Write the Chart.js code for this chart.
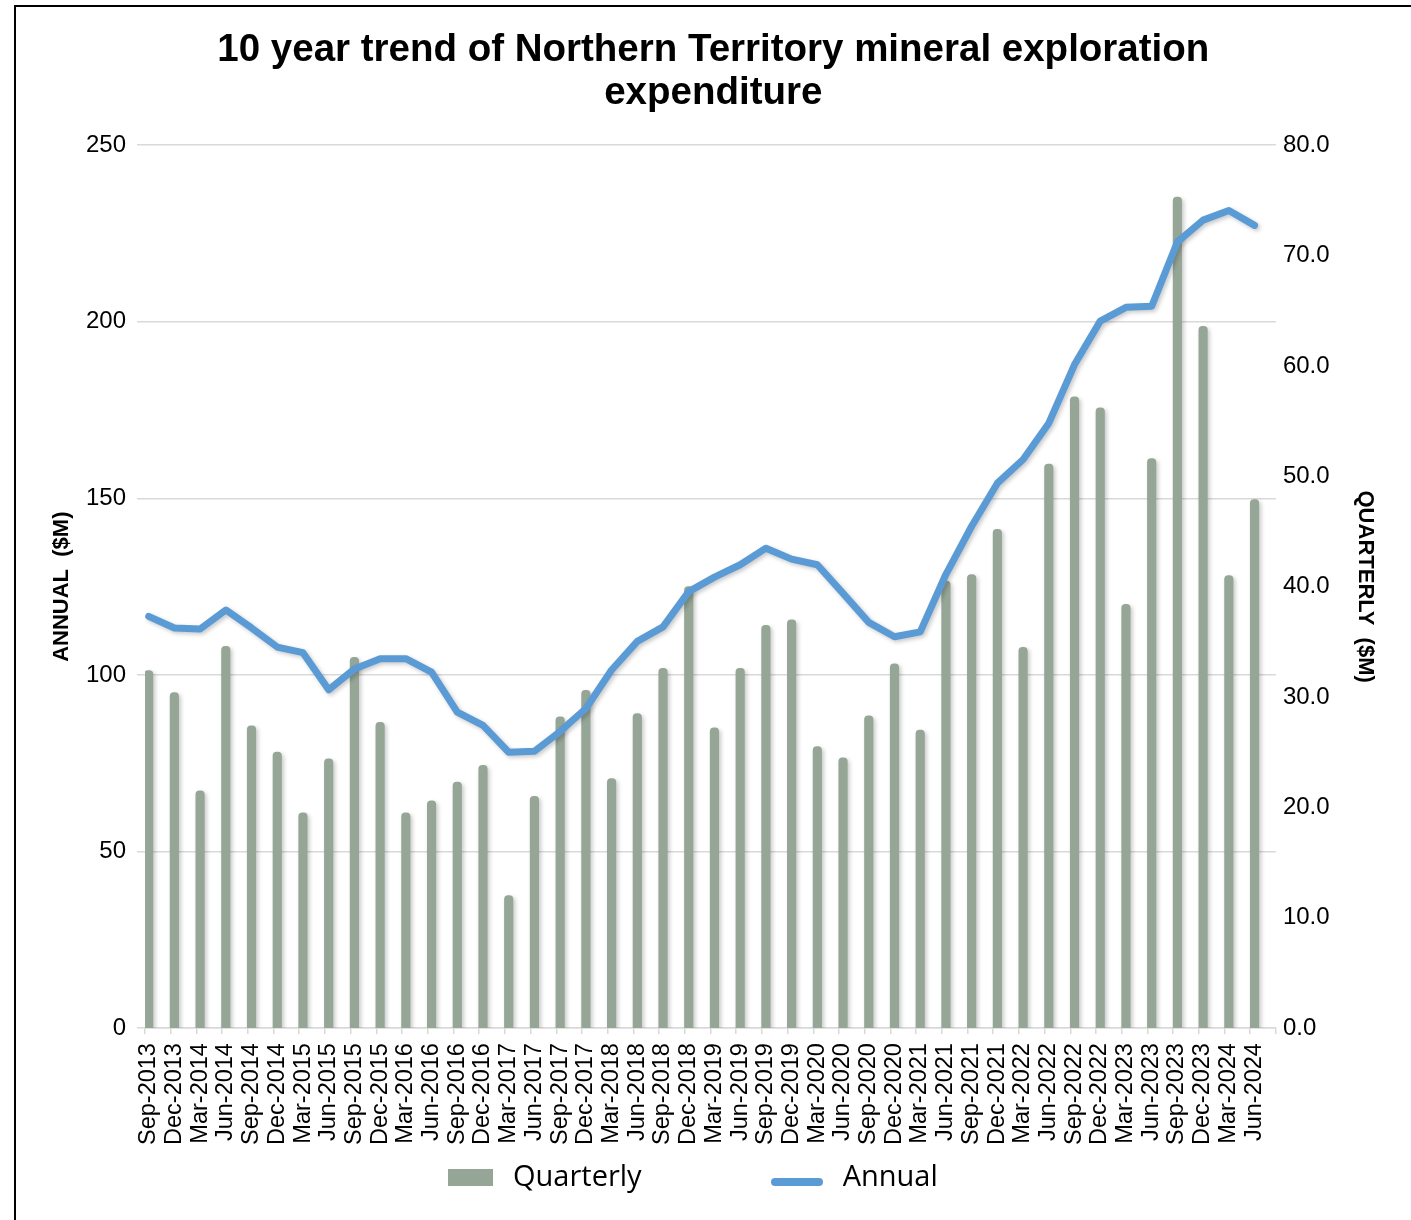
<!DOCTYPE html>
<html>
<head>
<meta charset="utf-8">
<script src="https://cdn.jsdelivr.net/npm/chart.js@4.4.1/dist/chart.umd.min.js"></script>
<style>
  html, body { margin: 0; padding: 0; background: #fff; }
  body { width: 1411px; height: 1220px; position: relative; overflow: hidden; }
  .frame { position: absolute; left: 14px; top: 5px; width: 1500px; height: 1300px;
           border-left: 2px solid #000; border-top: 2px solid #000; }
  #wrap { position: absolute; left: 0; top: 0; width: 1411px; height: 1160px; }
  #legend { position: absolute; left: 448px; top: 1161px; display: flex; align-items: baseline;
            font-family: "Open Sans", sans-serif; font-size: 29px; line-height: 28px; color: #000; }
  .item { display: flex; align-items: baseline; }
  .item + .item { margin-left: 129px; }
  .item span { margin-left: 20px; }
  .box { display: inline-block; width: 45px; height: 17px; }
  .line { display: inline-block; width: 52px; height: 8px; border-radius: 4px; margin-bottom: -4px; }
</style>
</head>
<body>
<div class="frame"></div>
<div id="wrap"><canvas id="chart"></canvas></div>
<div id="legend"></div>

<script>
// data
const categories = [
  "Sep-2013", "Dec-2013", "Mar-2014", "Jun-2014", "Sep-2014", "Dec-2014",
  "Mar-2015", "Jun-2015", "Sep-2015", "Dec-2015", "Mar-2016", "Jun-2016",
  "Sep-2016", "Dec-2016", "Mar-2017", "Jun-2017", "Sep-2017", "Dec-2017",
  "Mar-2018", "Jun-2018", "Sep-2018", "Dec-2018", "Mar-2019", "Jun-2019",
  "Sep-2019", "Dec-2019", "Mar-2020", "Jun-2020", "Sep-2020", "Dec-2020",
  "Mar-2021", "Jun-2021", "Sep-2021", "Dec-2021", "Mar-2022", "Jun-2022",
  "Sep-2022", "Dec-2022", "Mar-2023", "Jun-2023", "Sep-2023", "Dec-2023",
  "Mar-2024", "Jun-2024"
];

const quarterly = [
  32.4, 30.4, 21.5, 34.6, 27.4, 25.0, 19.5, 24.4, 33.6, 27.7, 19.5, 20.6,
  22.3, 23.8, 12.0, 21.0, 28.2, 30.6, 22.6, 28.5, 32.6, 40.0, 27.2, 32.6,
  36.5, 37.0, 25.5, 24.5, 28.3, 33.0, 27.0, 40.5, 41.1, 45.2, 34.5, 51.1,
  57.2, 56.2, 38.4, 51.6, 75.3, 63.6, 41.0, 47.9
];

const annual = [
  116.6, 113.3, 113.0, 118.4, 113.3, 107.9, 106.3, 95.8, 101.7, 104.6, 104.6, 100.8,
  89.5, 85.7, 78.1, 78.4, 84.0, 90.5, 101.4, 109.5, 113.6, 123.6, 127.7, 131.2,
  135.9, 132.8, 131.2, 123.1, 114.9, 110.8, 112.2, 128.5, 142.1, 154.3, 161.0, 171.3,
  187.9, 200.2, 204.1, 204.4, 222.6, 228.8, 231.5, 227.3
];

const annualTicks = [0, 50, 100, 150, 200, 250];
const quarterlyTicks = [0, 10, 20, 30, 40, 50, 60, 70, 80];

const barColor = "#95a596";
const lineColor = "#5b9bd5";
const gridColor = "#d9d9d9";

Chart.defaults.font.family = "'Liberation Sans', Arial, sans-serif";
Chart.defaults.color = "#000";

// soft drop shadow under bars and line
const shadowPlugin = {
  id: "shadow",
  beforeDatasetDraw(chart) {
    const ctx = chart.ctx;
    ctx.save();
    ctx.shadowColor = "rgba(0,0,0,0.22)";
    ctx.shadowBlur = 4;
    ctx.shadowOffsetX = 2;
    ctx.shadowOffsetY = 2;
  },
  afterDatasetDraw(chart) {
    chart.ctx.restore();
  }
};

const chart = new Chart(document.getElementById("chart"), {
  type: "bar",
  data: {
    labels: categories,
    datasets: [
      {
        type: "bar",
        label: "Quarterly",
        data: categories.map((c, i) => ({ x: i, y: quarterly[i] })),
        xAxisID: "xl",
        yAxisID: "y1",
        backgroundColor: barColor,
        barThickness: 8.5,
        borderRadius: { topLeft: 4, topRight: 4, bottomLeft: 0, bottomRight: 0 },
        borderSkipped: "bottom",
        order: 2
      },
      {
        type: "line",
        label: "Annual",
        data: categories.map((c, i) => ({ x: i, y: annual[i] })),
        xAxisID: "xl",
        yAxisID: "y",
        borderColor: lineColor,
        backgroundColor: lineColor,
        borderWidth: 7,
        pointRadius: 0,
        tension: 0,
        fill: false,
        borderJoinStyle: "round",
        borderCapStyle: "round",
        order: 1
      }
    ]
  },
  options: {
    responsive: true,
    maintainAspectRatio: false,
    animation: false,
    layout: {
      padding: { left: 48.6, right: 33, top: 0, bottom: 6 }
    },
    plugins: {
      legend: { display: false },
      tooltip: { enabled: false },
      title: {
        display: true,
        text: ["10 year trend of Northern Territory mineral exploration", "expenditure"],
        color: "#000",
        font: { size: 38.5, weight: "bold", lineHeight: 1.12 },
        padding: { top: 29, bottom: 30 }
      }
    },
    scales: {
      // visible category axis: labels and tick marks
      x: {
        type: "category",
        position: "bottom",
        labels: categories,
        offset: true,
        grid: {
          display: true,
          drawOnChartArea: false,
          drawTicks: true,
          tickLength: 6,
          offset: true,
          color: gridColor,
          lineWidth: 1.5
        },
        border: { display: true, color: gridColor, width: 1.5 },
        ticks: {
          autoSkip: false,
          minRotation: 90,
          maxRotation: 90,
          labelOffset: -9,
          padding: 9,
          color: "#000",
          font: { size: 23.5 }
        }
      },
      // hidden index axis the marks are placed on (bars sit left in each slot)
      xl: {
        type: "linear",
        axis: "x",
        display: false,
        offset: false,
        grid: { offset: false },
        min: -0.14,
        max: 43.83
      },
      y: {
        type: "linear",
        position: "left",
        min: annualTicks[0],
        max: annualTicks[annualTicks.length - 1],
        ticks: {
          stepSize: annualTicks[1] - annualTicks[0],
          padding: 11,
          color: "#000",
          font: { size: 24 }
        },
        grid: { color: gridColor, lineWidth: 1.5, tickLength: 8 },
        border: { display: false },
        title: {
          display: true,
          text: "ANNUAL  ($M)",
          color: "#000",
          font: { size: 22, weight: "bold" },
          padding: { top: 0, bottom: 0 }
        }
      },
      y1: {
        type: "linear",
        position: "right",
        min: quarterlyTicks[0],
        max: quarterlyTicks[quarterlyTicks.length - 1],
        ticks: {
          stepSize: quarterlyTicks[1] - quarterlyTicks[0],
          padding: 7,
          color: "#000",
          font: { size: 24 },
          callback: (v) => Number(v).toFixed(1)
        },
        grid: { drawOnChartArea: false, drawTicks: false },
        border: { display: false },
        title: {
          display: true,
          text: "QUARTERLY  ($M)",
          color: "#000",
          font: { size: 22, weight: "bold" },
          padding: { top: 0, bottom: 15 }
        }
      }
    }
  },
  plugins: [shadowPlugin]
});

// html legend from the datasets
const legendEl = document.getElementById("legend");
chart.data.datasets.forEach((ds) => {
  const item = document.createElement("div");
  item.className = "item";
  const mark = document.createElement("i");
  mark.className = ds.type === "line" ? "line" : "box";
  mark.style.background = ds.type === "line" ? ds.borderColor : ds.backgroundColor;
  const text = document.createElement("span");
  text.textContent = ds.label;
  item.appendChild(mark);
  item.appendChild(text);
  legendEl.appendChild(item);
});
</script>
</body>
</html>
